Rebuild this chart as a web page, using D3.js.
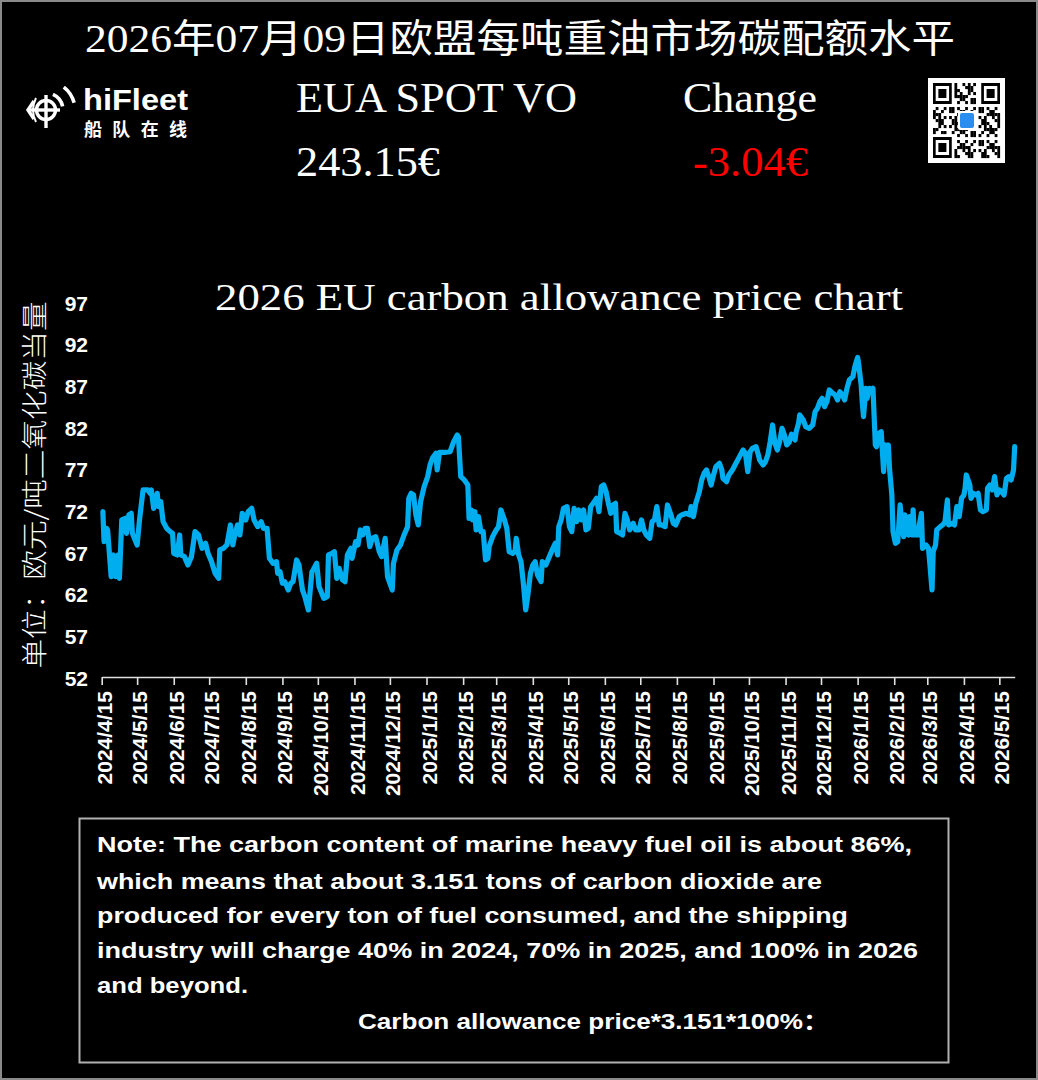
<!DOCTYPE html>
<html><head><meta charset="utf-8">
<script src="https://cdn.jsdelivr.net/npm/d3@7"></script>
<style>html,body{margin:0;padding:0;background:#000;}svg{display:block;}</style>
</head><body>
<svg id="c" width="1038" height="1080"></svg>
<script>
// ---------- DATA ----------
const titleText = "2026年07月09日欧盟每吨重油市场碳配额水平";
const chartTitle = "2026 EU carbon allowance price chart";
const yAxisTitle = "单位：欧元/吨二氧化碳当量";
const headerLabels = ["EUA SPOT VO", "Change"];
const headerValues = ["243.15€", "-3.04€"];
const logoName = "hiFleet";
const logoSub = "船队在线";
const noteLines = [
  "Note: The carbon content of marine heavy fuel oil is about 86%,",
  "which means that about 3.151 tons of carbon dioxide are",
  "produced for every ton of fuel consumed, and the shipping",
  "industry will charge 40% in 2024, 70% in 2025, and 100% in 2026",
  "and beyond.",
  "Carbon allowance price*3.151*100%："
];
const yTicks = [52, 57, 62, 67, 72, 77, 82, 87, 92, 97];
const xTickDates = ["2024-04-15","2024-05-15","2024-06-15","2024-07-15","2024-08-15","2024-09-15","2024-10-15","2024-11-15","2024-12-15",
  "2025-01-15","2025-02-15","2025-03-15","2025-04-15","2025-05-15","2025-06-15","2025-07-15","2025-08-15","2025-09-15","2025-10-15","2025-11-15","2025-12-15",
  "2026-01-15","2026-02-15","2026-03-15","2026-04-15","2026-05-15"];
const xDomain = ["2024-04-15", "2026-05-28"];
const dates = [
"2024-04-16","2024-04-17","2024-04-19","2024-04-20","2024-04-23","2024-04-25","2024-04-27","2024-04-29","2024-04-30","2024-05-02",
"2024-05-05","2024-05-06","2024-05-08","2024-05-10","2024-05-11","2024-05-15","2024-05-17","2024-05-20","2024-05-24","2024-05-26",
"2024-05-27","2024-05-29","2024-06-01","2024-06-02","2024-06-04","2024-06-06","2024-06-09","2024-06-12","2024-06-14","2024-06-15",
"2024-06-18","2024-06-20","2024-06-21","2024-06-24","2024-06-27","2024-06-30","2024-07-03","2024-07-06","2024-07-09","2024-07-12",
"2024-07-14","2024-07-17","2024-07-20","2024-07-23","2024-07-24","2024-07-27","2024-07-30","2024-08-02","2024-08-04","2024-08-06",
"2024-08-08","2024-08-10","2024-08-12","2024-08-15","2024-08-17","2024-08-20","2024-08-22","2024-08-25","2024-08-28","2024-08-30",
"2024-09-02","2024-09-04","2024-09-07","2024-09-10","2024-09-11","2024-09-13","2024-09-15","2024-09-17","2024-09-20","2024-09-22",
"2024-09-24","2024-09-27","2024-09-29","2024-10-02","2024-10-04","2024-10-07","2024-10-10","2024-10-11","2024-10-14","2024-10-16",
"2024-10-20","2024-10-23","2024-10-24","2024-10-27","2024-10-29","2024-10-31","2024-11-02","2024-11-05","2024-11-07","2024-11-09",
"2024-11-12","2024-11-13","2024-11-16","2024-11-18","2024-11-20","2024-11-22","2024-11-24","2024-11-26","2024-11-28","2024-11-30",
"2024-12-03","2024-12-06","2024-12-08","2024-12-11","2024-12-13","2024-12-15","2024-12-17","2024-12-18","2024-12-21","2024-12-24",
"2024-12-27","2024-12-30","2024-12-31","2025-01-02","2025-01-04","2025-01-06","2025-01-08","2025-01-10","2025-01-13","2025-01-16",
"2025-01-18","2025-01-20","2025-01-23","2025-01-24","2025-01-26","2025-01-30","2025-02-04","2025-02-07","2025-02-10","2025-02-11",
"2025-02-13","2025-02-16","2025-02-19","2025-02-20","2025-02-22","2025-02-23","2025-02-25","2025-02-26","2025-02-28","2025-03-02",
"2025-03-04","2025-03-06","2025-03-08","2025-03-09","2025-03-12","2025-03-15","2025-03-17","2025-03-19","2025-03-22","2025-03-24",
"2025-03-26","2025-03-29","2025-03-31","2025-04-01","2025-04-03","2025-04-05","2025-04-07","2025-04-09","2025-04-11","2025-04-13",
"2025-04-15","2025-04-17","2025-04-19","2025-04-22","2025-04-23","2025-04-26","2025-04-29","2025-05-02","2025-05-04","2025-05-06",
"2025-05-07","2025-05-09","2025-05-11","2025-05-14","2025-05-16","2025-05-18","2025-05-20","2025-05-22","2025-05-24","2025-05-26",
"2025-05-28","2025-05-30","2025-06-01","2025-06-03","2025-06-06","2025-06-08","2025-06-10","2025-06-12","2025-06-14","2025-06-16",
"2025-06-18","2025-06-20","2025-06-22","2025-06-24","2025-06-25","2025-06-28","2025-06-30","2025-07-02","2025-07-04","2025-07-06",
"2025-07-09","2025-07-11","2025-07-14","2025-07-16","2025-07-18","2025-07-20","2025-07-23","2025-07-25","2025-07-27","2025-07-29",
"2025-07-31","2025-08-02","2025-08-05","2025-08-07","2025-08-10","2025-08-12","2025-08-14","2025-08-17","2025-08-19","2025-08-23",
"2025-08-26","2025-08-27","2025-08-29","2025-08-31","2025-09-03","2025-09-05","2025-09-07","2025-09-09","2025-09-11","2025-09-13",
"2025-09-15","2025-09-17","2025-09-20","2025-09-22","2025-09-23","2025-09-26","2025-09-28","2025-10-01","2025-10-04","2025-10-07",
"2025-10-10","2025-10-12","2025-10-14","2025-10-16","2025-10-18","2025-10-21","2025-10-23","2025-10-24","2025-10-27","2025-10-29",
"2025-10-31","2025-11-02","2025-11-04","2025-11-06","2025-11-08","2025-11-10","2025-11-12","2025-11-14","2025-11-16","2025-11-18",
"2025-11-20","2025-11-23","2025-11-24","2025-11-26","2025-11-27","2025-11-30","2025-12-02","2025-12-05","2025-12-08","2025-12-10",
"2025-12-12","2025-12-14","2025-12-16","2025-12-18","2025-12-20","2025-12-22","2025-12-25","2025-12-27","2025-12-29","2025-12-31",
"2026-01-02","2026-01-04","2026-01-06","2026-01-08","2026-01-11","2026-01-13","2026-01-15","2026-01-16","2026-01-18","2026-01-19",
"2026-01-20","2026-01-22","2026-01-23","2026-01-25","2026-01-27","2026-01-28","2026-01-30","2026-01-31","2026-02-02","2026-02-04",
"2026-02-06","2026-02-07","2026-02-09","2026-02-10","2026-02-11","2026-02-13","2026-02-14","2026-02-16","2026-02-18","2026-02-20",
"2026-02-21","2026-02-23","2026-02-24","2026-02-25","2026-02-27","2026-02-28","2026-03-02","2026-03-03","2026-03-04","2026-03-07",
"2026-03-08","2026-03-10","2026-03-11","2026-03-14","2026-03-16","2026-03-17","2026-03-19","2026-03-20","2026-03-22","2026-03-23",
"2026-03-26","2026-03-28","2026-03-30","2026-04-01","2026-04-02","2026-04-05","2026-04-07","2026-04-09","2026-04-11","2026-04-13",
"2026-04-15","2026-04-16","2026-04-17","2026-04-20","2026-04-21","2026-04-23","2026-04-25","2026-04-27","2026-04-29","2026-05-01",
"2026-05-04","2026-05-05","2026-05-07","2026-05-09","2026-05-11","2026-05-13","2026-05-15","2026-05-17","2026-05-19","2026-05-21",
"2026-05-23","2026-05-25","2026-05-27","2026-05-28"];
const prices = [
72.0,68.4,70.0,69.8,64.2,66.8,64.2,66.8,64.0,71.0,
71.2,69.4,71.6,71.8,69.4,68.0,71.0,74.6,74.6,74.2,
74.6,72.4,74.2,72.6,73.2,70.8,70.0,69.6,69.4,67.0,
66.8,69.2,66.8,66.6,65.6,66.6,69.6,69.2,67.6,68.2,
67.0,66.0,64.6,64.0,67.4,67.6,68.0,70.4,68.0,69.4,
70.4,69.2,71.8,71.0,72.0,72.4,71.0,70.2,70.8,70.0,
70.0,66.4,65.8,66.0,64.6,64.8,63.4,63.6,62.6,63.4,
63.6,66.2,65.6,62.6,61.8,60.2,64.8,65.0,65.8,63.0,
61.6,61.8,66.8,67.0,67.2,64.0,65.2,63.8,63.6,66.8,
67.6,66.4,68.4,68.0,69.8,69.2,70.0,70.0,67.8,68.8,
69.0,67.2,66.6,68.8,64.2,63.4,62.6,65.8,67.4,68.0,
69.2,70.2,73.6,74.2,74.0,71.6,70.4,73.2,75.0,76.2,
77.6,78.4,79.0,77.0,79.1,79.1,79.2,80.4,81.2,81.0,
76.2,75.8,75.2,71.2,72.2,71.0,72.0,69.8,71.4,69.6,
69.6,66.2,66.4,67.8,69.0,69.8,70.2,72.2,71.0,70.0,
67.2,67.0,67.2,68.8,66.8,66.0,63.4,60.2,62.2,64.6,
65.6,66.0,64.4,63.6,66.0,65.6,66.6,67.6,68.2,66.8,
70.2,71.0,72.4,72.6,70.2,69.6,72.4,70.8,72.2,71.0,
72.2,69.8,70.0,72.6,73.2,73.6,72.0,75.0,75.2,74.4,
73.0,71.8,72.8,73.0,69.6,69.4,69.2,71.8,71.0,69.8,
70.6,69.8,69.8,71.0,69.8,69.2,68.8,70.8,71.0,72.6,
70.4,70.4,70.2,72.8,71.6,70.6,70.4,71.4,71.6,71.8,
71.6,72.6,71.4,73.0,74.4,75.8,76.6,77.0,76.2,75.2,
76.4,77.4,77.8,77.0,76.0,75.6,76.4,77.0,77.8,78.6,
79.4,79.0,76.8,79.2,79.6,79.8,78.8,78.2,77.6,78.0,
78.8,80.4,82.4,80.2,79.4,80.4,82.0,81.2,80.0,80.3,
81.3,80.6,81.6,82.6,83.6,83.0,82.2,82.0,82.4,84.0,
84.4,85.2,85.6,84.6,85.2,86.6,86.2,86.0,85.4,86.4,
86.0,85.4,86.8,87.8,88.2,89.6,90.5,89.6,87.2,85.0,
83.4,86.8,85.6,86.8,86.6,86.8,80.0,79.8,81.4,81.6,
76.8,80.0,78.2,80.0,77.2,74.0,69.6,68.2,68.4,72.8,
71.2,69.0,71.6,69.4,69.2,71.4,69.2,72.2,69.2,69.2,
70.2,71.8,67.6,68.0,67.6,66.0,62.6,67.2,68.0,69.8,
70.2,70.4,70.8,73.4,70.4,70.6,70.4,72.6,71.4,73.6,
74.0,74.8,76.4,75.2,73.6,74.2,74.0,74.2,72.2,72.0,
72.2,74.8,75.2,74.6,76.2,74.0,74.6,74.4,74.0,76.0,
76.2,75.8,77.0,79.8];

// ---------- DRAW ----------
const svg = d3.select("#c");
const W = 1038, H = 1080;
const serif = "'Liberation Serif','Times New Roman','Noto Sans CJK SC',serif";
const sans = "'Liberation Sans',Arial,'Noto Sans CJK SC',sans-serif";
const cjk = "'Noto Sans CJK SC','Liberation Serif',serif";

svg.append("rect").attr("x",0).attr("y",0).attr("width",W).attr("height",H).attr("fill","#000");
svg.append("rect").attr("x",1).attr("y",1).attr("width",W-2).attr("height",H-2)
  .attr("fill","none").attr("stroke","#8a8a8a").attr("stroke-width",2);

// Title
svg.append("text").attr("x",85).attr("y",52).attr("fill","#fff")
  .attr("textLength",870).attr("lengthAdjust","spacingAndGlyphs")
  .style("font-family",serif).style("font-size","39px").text(titleText);

// Logo
const logo = svg.append("g");
const lw = 3.4;
logo.append("circle").attr("cx",46).attr("cy",110).attr("r",9.5).attr("fill","none").attr("stroke","#fff").attr("stroke-width",lw);
logo.append("line").attr("x1",46).attr("y1",95).attr("x2",46).attr("y2",128).attr("stroke","#fff").attr("stroke-width",lw);
logo.append("line").attr("x1",28).attr("y1",110).attr("x2",60).attr("y2",110).attr("stroke","#fff").attr("stroke-width",lw);
logo.append("path").attr("d","M34 101 L28 110 L34 119").attr("stroke","#fff").attr("stroke-width",lw).attr("fill","none");
logo.append("path").attr("d","M36 98 Q30 110 36 122").attr("stroke","#fff").attr("stroke-width",2).attr("fill","none");
[[17, 0.42, 1.36],[29, 0.66, 1.32]].forEach(([r,a0,a1])=>{
  const arc = d3.arc().innerRadius(r-1.8).outerRadius(r+1.8).startAngle(a0).endAngle(a1);
  logo.append("path").attr("d",arc()).attr("transform","translate(46,110)").attr("fill","#fff");
});
logo.append("text").attr("x",83).attr("y",110).attr("fill","#fff").attr("textLength",105).attr("lengthAdjust","spacingAndGlyphs")
  .style("font-family",sans).style("font-weight","bold").style("font-size","30px").text(logoName);
logo.append("text").attr("x",84).attr("y",136).attr("fill","#fff").attr("textLength",103).attr("lengthAdjust","spacing")
  .style("font-family",cjk).style("font-weight","bold").style("font-size","18px").text(logoSub);

// Header labels and values
const headerX = [296, 683];
const headerW = [281, 134];
const valueX = [296, 693];
const valueW = [144, 115];
headerLabels.forEach((t,i)=>{
  svg.append("text").attr("x",headerX[i]).attr("y",112).attr("fill","#fff")
    .attr("textLength",headerW[i]).attr("lengthAdjust","spacingAndGlyphs")
    .style("font-family",serif).style("font-size","42px").text(t);
});
headerValues.forEach((t,i)=>{
  svg.append("text").attr("x",valueX[i]).attr("y",176).attr("fill", i===1 ? "#ff0000" : "#fff")
    .attr("textLength",valueW[i]).attr("lengthAdjust","spacingAndGlyphs")
    .style("font-family",serif).style("font-size","42px").text(t);
});

// QR-like badge
const qr = svg.append("g");
qr.append("rect").attr("x",928).attr("y",78).attr("width",77).attr("height",85).attr("fill","#fff");
const n = 25, qx = 933, qy = 83, cw = 67/n, ch = 75/n;
for (let i=0;i<n;i++) for (let j=0;j<n;j++){
  const inFinder = (i<8&&j<8)||(i<8&&j>=n-8)||(i>=n-8&&j<8);
  if (inFinder) continue;
  if (((i*31 + j*17 + i*j*7) % 11) < 5)
    qr.append("rect").attr("x",qx+j*cw).attr("y",qy+i*ch).attr("width",cw+0.1).attr("height",ch+0.1).attr("fill","#000");
}
[[0,0],[0,n-7],[n-7,0]].forEach(([r,c])=>{
  qr.append("rect").attr("x",qx+c*cw).attr("y",qy+r*ch).attr("width",7*cw).attr("height",7*ch).attr("fill","#000");
  qr.append("rect").attr("x",qx+(c+1)*cw).attr("y",qy+(r+1)*ch).attr("width",5*cw).attr("height",5*ch).attr("fill","#fff");
  qr.append("rect").attr("x",qx+(c+2)*cw).attr("y",qy+(r+2)*ch).attr("width",3*cw).attr("height",3*ch).attr("fill","#000");
});
qr.append("rect").attr("x",958).attr("y",111).attr("width",18).attr("height",19).attr("rx",2).attr("fill","#fff");
qr.append("rect").attr("x",960).attr("y",113).attr("width",14).attr("height",15).attr("rx",2).attr("fill","#2a8ef0");

// Chart title
svg.append("text").attr("x",215).attr("y",310).attr("fill","#fff")
  .attr("textLength",688).attr("lengthAdjust","spacingAndGlyphs")
  .style("font-family",serif).style("font-size","38px").text(chartTitle);

// Scales
const parse = d3.timeParse("%Y-%m-%d");
const x = d3.scaleTime().domain(xDomain.map(parse)).range([101.7, 1014.7]);
const y = d3.scaleLinear().domain([52, 97]).range([678.3, 303.3]);

// Y axis labels
const gy = svg.append("g").attr("transform","translate(95,0)")
  .call(d3.axisLeft(y).tickValues(yTicks).tickSize(0).tickPadding(7).tickFormat(d3.format("d")));
gy.select(".domain").remove();
gy.selectAll(".tick text").attr("fill","#fff").style("font-family",sans).style("font-weight","bold").style("font-size","21px");

// Y axis title
svg.append("text").attr("transform","translate(32,485) rotate(-90)")
  .attr("text-anchor","middle").attr("dominant-baseline","central").attr("fill","#fff")
  .attr("textLength",367).attr("lengthAdjust","spacingAndGlyphs")
  .style("font-family",cjk).style("font-size","26px").style("font-weight","300").text(yAxisTitle);

// X axis
const gx = svg.append("g").attr("transform","translate(0,677)")
  .call(d3.axisBottom(x).tickValues(xTickDates.map(parse)).tickFormat(d3.timeFormat("%Y/%-m/%-d")).tickSize(8).tickSizeOuter(0));
gx.select(".domain").attr("stroke","#e0e0e0").attr("stroke-width",1.6);
gx.selectAll(".tick line").attr("stroke","#e0e0e0").attr("stroke-width",1.6);
gx.selectAll(".tick text").attr("transform","rotate(-90)").attr("text-anchor","end")
  .attr("x",-14).attr("y",2).attr("dy","0.36em").attr("fill","#fff")
  .style("font-family",sans).style("font-weight","bold").style("font-size","21px");

// Line
const series = dates.map((d,i)=>({date: parse(d), value: prices[i]}));
svg.append("path").datum(series)
  .attr("fill","none").attr("stroke","#00aeef").attr("stroke-width",5.2)
  .attr("stroke-linejoin","round").attr("stroke-linecap","round")
  .attr("d", d3.line().x(d=>x(d.date)).y(d=>y(d.value)));

// Note box
svg.append("rect").attr("x",79.5).attr("y",818.5).attr("width",869).attr("height",244)
  .attr("fill","none").attr("stroke","#b0b0b0").attr("stroke-width",2);
const noteX = [97,97,97,97,97,358];
const noteY = [852,889,923,958,993,1029];
const noteW = [815,725,751,821,151,471];
noteLines.forEach((t,i)=>{
  svg.append("text").attr("x",noteX[i]).attr("y",noteY[i]).attr("fill","#fff")
    .attr("textLength",noteW[i]).attr("lengthAdjust","spacingAndGlyphs")
    .style("font-family",sans).style("font-weight","bold").style("font-size","22px").text(t);
});
</script>
</body></html>
